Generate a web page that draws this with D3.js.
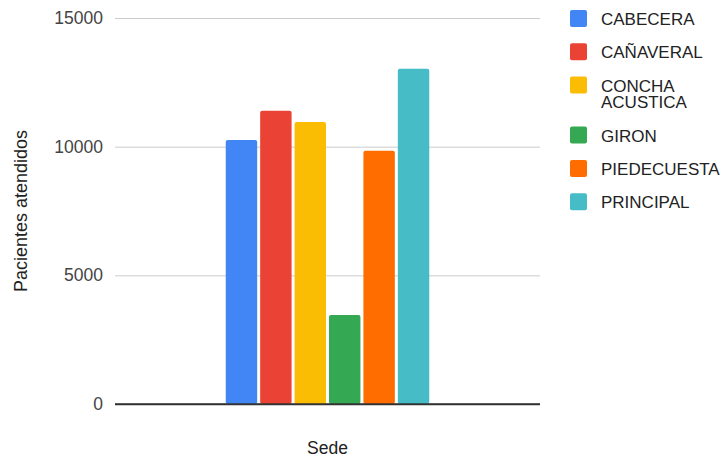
<!DOCTYPE html>
<html>
<head>
<meta charset="utf-8">
<script src="https://cdn.jsdelivr.net/npm/d3@7"></script>
<style>
  body { margin: 0; background: #fff; }
  text { font-family: Arial, "Liberation Sans", sans-serif; }
</style>
</head>
<body>
<div id="chart"></div>
<script>
// data
const category = ["Sede"];
const sedes = ["CABECERA", "CAÑAVERAL", "CONCHA ACUSTICA", "GIRON", "PIEDECUESTA", "PRINCIPAL"];
const pacientes = [10260, 11400, 10960, 3460, 9845, 13030];
const colors = ["#4285F4", "#EA4335", "#FBBC04", "#34A853", "#FF6D01", "#46BDC6"];
const yTicks = [0, 5000, 10000, 15000];

const W = 727, H = 458;
const margin = { top: 18, right: 187, bottom: 54, left: 115 };
const width = W - margin.left - margin.right;
const height = H - margin.top - margin.bottom;

const svg = d3.select("#chart").append("svg")
    .attr("width", W)
    .attr("height", H);

const g = svg.append("g")
    .attr("transform", `translate(${margin.left},${margin.top})`);

// scales
const x0 = d3.scaleBand()
    .domain(category)
    .range([0, width])
    .paddingInner(0.346)
    .paddingOuter(0.346);

const x1 = d3.scaleBand()
    .domain(sedes)
    .range([x0(category[0]), x0(category[0]) + x0.bandwidth()])
    .paddingInner(0.087)
    .paddingOuter(0.0435);

const y = d3.scaleLinear()
    .domain([0, 15000])
    .range([height, 0]);

// gridlines + tick labels
const yAxis = g.append("g")
    .call(d3.axisLeft(y).tickValues(yTicks).tickFormat(d3.format("d")).tickSize(-width).tickPadding(12));
yAxis.select(".domain").remove();
yAxis.selectAll(".tick line")
    .attr("stroke", d => d === 0 ? "#333" : "#ccc")
    .attr("stroke-width", d => d === 0 ? 1.5 : 1);
yAxis.selectAll(".tick text")
    .attr("fill", "#444")
    .style("font-size", "17.5px")
    .style("font-family", "Arial, 'Liberation Sans', sans-serif");

// bars
const data = sedes.map((s, i) => ({ sede: s, value: pacientes[i], color: colors[i] }));
g.selectAll("rect.bar")
    .data(data)
    .enter()
    .append("rect")
    .attr("class", "bar")
    .attr("x", d => x1(d.sede))
    .attr("y", d => y(d.value))
    .attr("width", x1.bandwidth())
    .attr("height", d => height - y(d.value))
    .attr("rx", 2)
    .attr("fill", d => d.color);

// redraw baseline on top of bars
g.append("line")
    .attr("x1", 0).attr("x2", width)
    .attr("y1", y(0)).attr("y2", y(0))
    .attr("stroke", "#333")
    .attr("stroke-width", 1.5);

// axis titles
svg.append("text")
    .attr("x", margin.left + width / 2)
    .attr("y", 454)
    .attr("text-anchor", "middle")
    .attr("fill", "#222")
    .style("font-size", "17.5px")
    .text(category[0]);

svg.append("text")
    .attr("transform", `translate(26.5,${margin.top + height / 2}) rotate(-90)`)
    .attr("text-anchor", "middle")
    .attr("fill", "#222")
    .style("font-size", "18px")
    .text("Pacientes atendidos");

// legend
const legend = svg.append("g");
const maxTextW = 124;
let cy = 18.5;
data.forEach(d => {
    const item = legend.append("g");
    item.append("rect")
        .attr("x", 570)
        .attr("y", cy - 8.5)
        .attr("width", 17)
        .attr("height", 17)
        .attr("rx", 2)
        .attr("fill", d.color);
    const t = item.append("text")
        .attr("x", 601)
        .attr("y", cy + 6.5)
        .attr("fill", "#222")
        .style("font-size", "17px");
    // word wrap
    const words = d.sede.split(" ");
    let lines = [];
    let line = "";
    words.forEach(w => {
        const test = line ? line + " " + w : w;
        t.text(test);
        if (line && t.node().getComputedTextLength() > maxTextW) {
            lines.push(line);
            line = w;
        } else {
            line = test;
        }
    });
    lines.push(line);
    t.text(null);
    lines.forEach((l, i) => {
        t.append("tspan")
            .attr("x", 601)
            .attr("dy", i === 0 ? 0 : 16.7)
            .text(l);
    });
    cy += 33.3 + (lines.length - 1) * 16.7;
});
</script>
</body>
</html>
